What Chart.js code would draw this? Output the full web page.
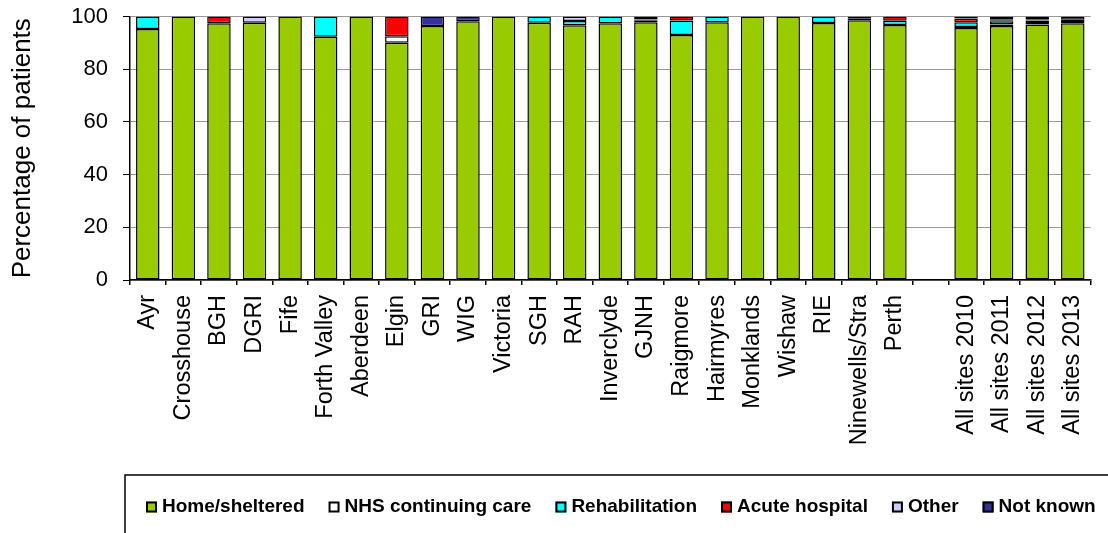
<!DOCTYPE html>
<html>
<head>
<meta charset="utf-8">
<title>Discharge destination by site</title>
<script src="https://cdn.jsdelivr.net/npm/chart.js@4.4.0/dist/chart.umd.min.js"></script>
<style>
  body { margin: 0; background: #fff; overflow: hidden; }
  #wrap { width: 1108px; height: 533px; overflow: hidden; }
</style>
</head>
<body>
<div id="wrap"><canvas id="chart" width="1111" height="533"></canvas></div>
<script>
// sites, then a blank slot, then the yearly totals
const sites = ['Ayr', 'Crosshouse', 'BGH', 'DGRI', 'Fife', 'Forth Valley', 'Aberdeen', 'Elgin', 'GRI', 'WIG',
  'Victoria', 'SGH', 'RAH', 'Inverclyde', 'GJNH', 'Raigmore', 'Hairmyres', 'Monklands', 'Wishaw', 'RIE',
  'Ninewells/Stra', 'Perth', '', 'All sites 2010', 'All sites 2011', 'All sites 2012', 'All sites 2013'];

// percentage of patients per destination (null = none)
const homeSheltered = [95.3, 100, 97.4, 97.6, 100, 92.3, 100, 90.0, 96.4, 98.2,
  100, 97.6, 96.7, 97.4, 97.8, 93.0, 97.8, 100, 100, 97.5,
  98.6, 96.8, null, 95.6, 96.4, 97.0, 97.4];
const nhsContinuing = [null, null, null, null, null, null, null, 2.5, null, null,
  null, null, null, null, 0.6, null, null, null, null, null,
  0.7, null, null, 0.4, 0.6, 0.5, 0.5];
const rehabilitation = [4.7, null, null, null, null, 7.7, null, null, null, null,
  null, 2.4, 1.6, 2.6, 0.5, 5.5, 2.2, null, null, 2.5,
  null, 1.6, null, 1.8, 1.2, 1.0, 0.9];
const acuteHospital = [null, null, 2.6, null, null, null, null, 7.5, null, null,
  null, null, null, null, null, 1.5, null, null, null, null,
  null, 1.6, null, 1.4, 0.4, 0.5, null];
const otherDest = [null, null, null, 2.4, null, null, null, null, null, null,
  null, null, 1.7, null, null, null, null, null, null, null,
  null, null, null, null, 0.4, null, null];
const notKnown = [null, null, null, null, null, null, null, null, 3.6, 1.8,
  null, null, null, null, 1.1, null, null, null, null, null,
  0.7, null, null, 0.8, 1.0, 1.0, 1.2];

const yTicks = [0, 20, 40, 60, 80, 100];

const FONT = "'Liberation Sans', Arial, sans-serif";

function series(label, data, color) {
  return {
    label: label,
    data: data,
    backgroundColor: color,
    borderColor: '#000',
    borderWidth: 1.5,
    borderSkipped: false,
    categoryPercentage: 1.0,
    barPercentage: 0.66,
  };
}

// boxed legend along the bottom edge
const boxLegend = {
  id: 'boxLegend',
  afterDraw(chart) {
    const ctx = chart.ctx;
    ctx.save();
    ctx.strokeStyle = '#000';
    ctx.lineWidth = 1.5;
    ctx.beginPath();
    ctx.moveTo(125, 560);
    ctx.lineTo(125, 475);
    ctx.lineTo(1120, 475);
    ctx.stroke();

    ctx.font = 'bold 19px ' + FONT;
    ctx.textBaseline = 'middle';
    ctx.textAlign = 'left';
    let x = 146;
    const y = 507;
    chart.data.datasets.forEach(ds => {
      ctx.fillStyle = ds.backgroundColor;
      ctx.fillRect(x, y - 5.5, 11, 11);
      ctx.lineWidth = 2;
      ctx.strokeRect(x + 1, y - 4.5, 9, 9);
      ctx.fillStyle = '#000';
      ctx.fillText(ds.label, x + 16, y);
      x += 16 + ctx.measureText(ds.label).width + 24;
    });
    ctx.restore();
  }
};

new Chart(document.getElementById('chart'), {
  type: 'bar',
  data: {
    labels: sites,
    datasets: [
      series('Home/sheltered', homeSheltered, '#99CC00'),
      series('NHS continuing care', nhsContinuing, '#FFFFFF'),
      series('Rehabilitation', rehabilitation, '#00FFFF'),
      series('Acute hospital', acuteHospital, '#FF0000'),
      series('Other', otherDest, '#CCCCFF'),
      series('Not known', notKnown, '#333399'),
    ],
  },
  options: {
    responsive: false,
    animation: false,
    layout: { padding: { top: 16.5, right: 0, bottom: 0, left: 0 } },
    plugins: {
      legend: { display: false },
      tooltip: { enabled: false },
    },
    scales: {
      x: {
        stacked: true,
        offset: true,
        grid: {
          offset: true,
          drawOnChartArea: false,
          color: '#000',
          tickLength: 5,
          lineWidth: 1.5,
        },
        border: { color: '#000', width: 1.5 },
        ticks: {
          autoSkip: false,
          minRotation: 90,
          maxRotation: 90,
          padding: 10,
          color: '#000',
          font: { family: FONT, size: 23.5 },
        },
        afterFit(scale) { scale.height = 253; },
      },
      y: {
        stacked: true,
        min: 0,
        max: 100,
        afterBuildTicks(scale) { scale.ticks = yTicks.map(v => ({ value: v })); },
        grid: {
          color: '#999',
          tickColor: '#000',
          tickLength: 7,
          lineWidth: 1,
        },
        border: { color: '#000', width: 1.5 },
        ticks: {
          padding: 15,
          color: '#000',
          // tiny line height keeps the top label from pushing the plot down
          font: { family: FONT, size: 22, lineHeight: 0.1 },
        },
        title: {
          display: true,
          text: 'Percentage of patients',
          color: '#000',
          font: { family: FONT, size: 26 },
          padding: { top: 7, bottom: 0 },
        },
        afterFit(scale) { scale.width = 130; },
      },
    },
  },
  plugins: [boxLegend],
});
</script>
</body>
</html>
